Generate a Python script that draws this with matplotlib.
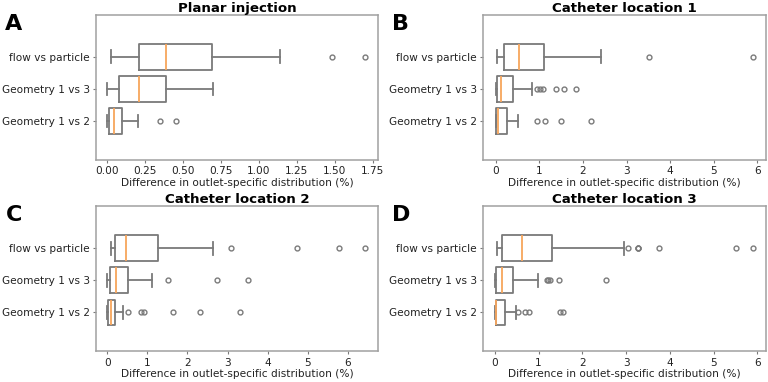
import matplotlib
matplotlib.use("Agg")
import matplotlib.pyplot as plt

# category labels, bottom to top
labels = ["Geometry 1 vs 2", "Geometry 1 vs 3", "flow vs particle"]

# box stats per panel, each row: [whislo, q1, med, q3, whishi], same order as labels
a_stats = [[0.0, 0.013, 0.046, 0.095, 0.20],
           [0.0, 0.08, 0.21, 0.39, 0.70],
           [0.024, 0.21, 0.39, 0.69, 1.14]]
a_fliers = [[0.35, 0.45], [], [1.48, 1.70]]

b_stats = [[0.0, 0.005, 0.06, 0.26, 0.52],
           [0.0, 0.04, 0.11, 0.40, 0.84],
           [0.04, 0.19, 0.54, 1.11, 2.42]]
b_fliers = [[0.94, 1.12, 1.50, 2.18],
            [0.94, 1.02, 1.09, 1.38, 1.56, 1.83],
            [3.52, 5.89]]

c_stats = [[0.0, 0.01, 0.09, 0.19, 0.40],
           [0.0, 0.07, 0.23, 0.51, 1.11],
           [0.09, 0.20, 0.48, 1.26, 2.65]]
c_fliers = [[0.52, 0.83, 0.92, 1.63, 2.31, 3.31],
            [1.51, 2.75, 3.50],
            [3.09, 4.73, 5.77, 6.43]]

d_stats = [[0.0, 0.015, 0.03, 0.22, 0.49],
           [0.0, 0.02, 0.17, 0.41, 0.98],
           [0.05, 0.17, 0.63, 1.30, 2.95]]
d_fliers = [[0.53, 0.69, 0.79, 1.48, 1.56],
            [1.18, 1.21, 1.25, 1.47, 2.53],
            [3.04, 3.26, 3.27, 3.28, 3.76, 5.50, 5.89]]

panels = [
    ("A", "Planar injection", a_stats, a_fliers, (-0.075, 1.785),
     [0, 0.25, 0.5, 0.75, 1.0, 1.25, 1.5, 1.75], [0.125, 0.581, 0.367, 0.380]),
    ("B", "Catheter location 1", b_stats, b_fliers, (-0.29, 6.19),
     [0, 1, 2, 3, 4, 5, 6], [0.629, 0.581, 0.368, 0.380]),
    ("C", "Catheter location 2", c_stats, c_fliers, (-0.28, 6.75),
     [0, 1, 2, 3, 4, 5, 6], [0.125, 0.080, 0.367, 0.380]),
    ("D", "Catheter location 3", d_stats, d_fliers, (-0.27, 6.19),
     [0, 1, 2, 3, 4, 5, 6], [0.629, 0.080, 0.368, 0.380]),
]

line_col = "#7a7a7a"
med_col = "#f7a65c"
text_col = "#222222"

fig = plt.figure(figsize=(7.68, 3.82), dpi=100)

for letter, title, stats, fliers, xlim, ticks, pos in panels:
    ax = fig.add_axes(pos)
    bx = []
    for lab, s, f in zip(labels, stats, fliers):
        bx.append(dict(label=lab, whislo=s[0], q1=s[1], med=s[2], q3=s[3],
                       whishi=s[4], fliers=f))
    ax.bxp(bx, positions=[1, 2, 3], widths=0.8, orientation="horizontal",
           boxprops=dict(color=line_col, lw=1.3),
           whiskerprops=dict(color=line_col, lw=1.3),
           capprops=dict(color=line_col, lw=1.3),
           medianprops=dict(color=med_col, lw=1.3),
           flierprops=dict(marker="o", markersize=3.5, markerfacecolor="none",
                           markeredgecolor=line_col, markeredgewidth=1.0))
    ax.set_xlim(*xlim)
    ax.set_ylim(-0.22, 4.31)
    ax.set_xticks(ticks)
    if letter == "A":
        ax.set_xticklabels(["%.2f" % t for t in ticks])
    ax.tick_params(labelsize=7.6, colors=line_col, labelcolor=text_col,
                   length=2.5, width=0.8, pad=2)
    for sp in ax.spines.values():
        sp.set_color("#a0a0a0")
        sp.set_linewidth(1.1)
    ax.set_xlabel("Difference in outlet-specific distribution (%)",
                  fontsize=7.6, color=text_col, labelpad=1)
    ax.set_title(title, fontsize=9.6, fontweight="bold", pad=2)
    fig.text(pos[0] - 0.118, pos[1] + pos[3] + 0.003, letter, fontsize=16,
             fontweight="bold", ha="left", va="top")

fig.savefig("out.png", dpi=100)
